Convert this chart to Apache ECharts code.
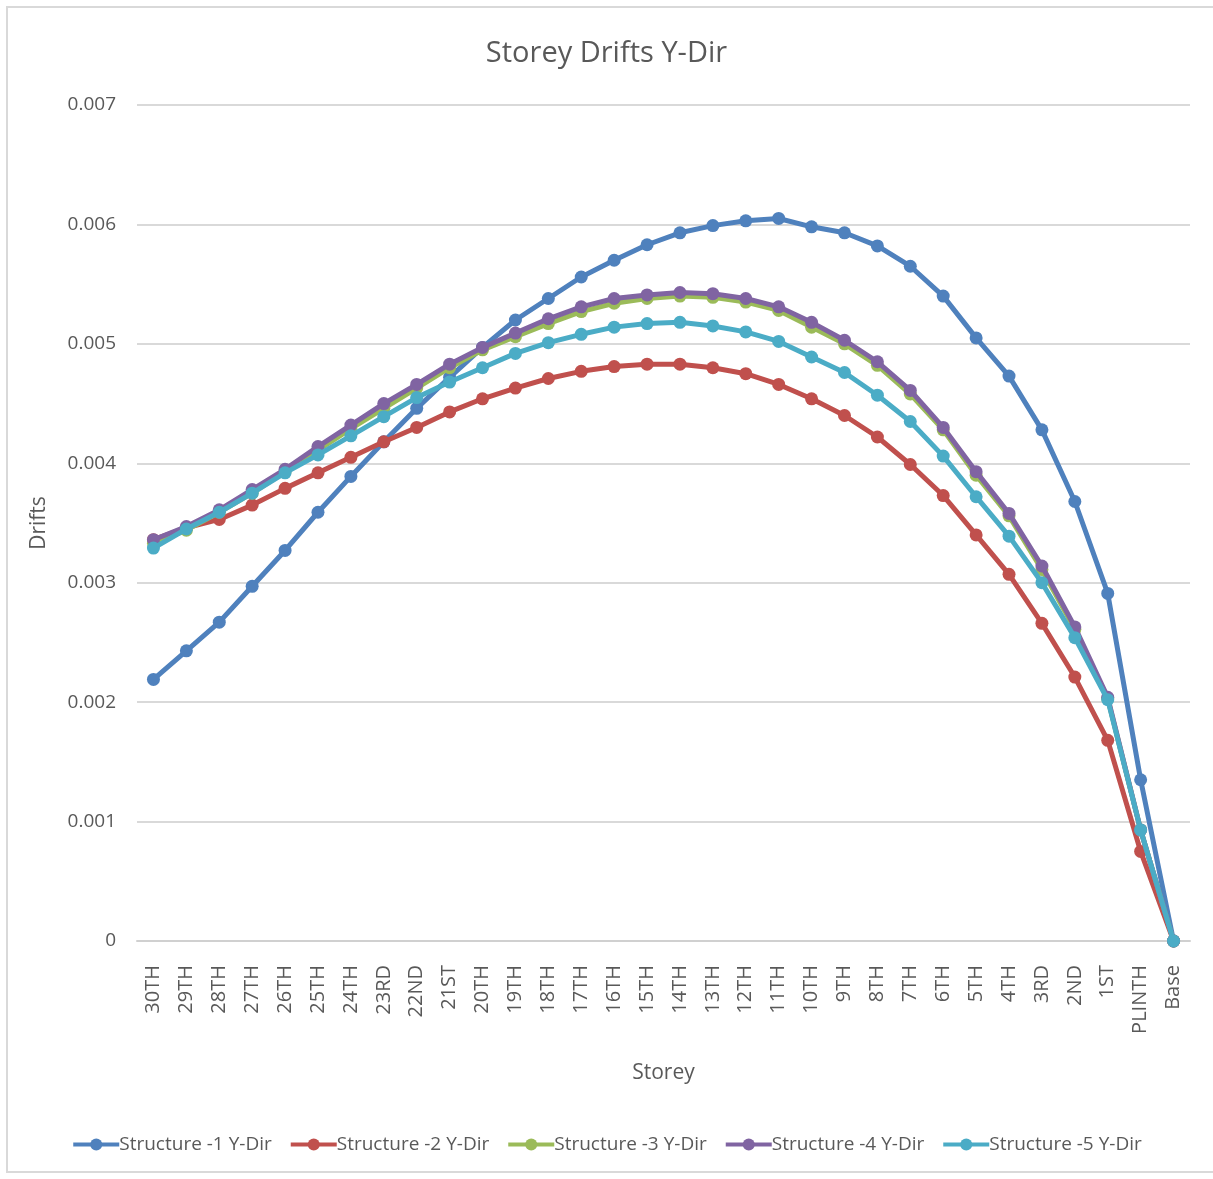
<!DOCTYPE html>
<html>
<head>
<meta charset="utf-8">
<title>Storey Drifts Y-Dir</title>
<script src="https://cdn.jsdelivr.net/npm/echarts@6/dist/echarts.min.js"></script>
<style>
  html, body { margin: 0; padding: 0; background: #ffffff; }
  #chart { width: 1213px; height: 1179px; }
</style>
</head>
<body>
<div id="chart"></div>
<script>
// Storey labels, top floor first
const storeys = ['30TH','29TH','28TH','27TH','26TH','25TH','24TH','23RD','22ND','21ST','20TH','19TH','18TH','17TH','16TH','15TH','14TH','13TH','12TH','11TH','10TH','9TH','8TH','7TH','6TH','5TH','4TH','3RD','2ND','1ST','PLINTH','Base'];

// Storey drift values in the Y direction for each structure
const structure1 = [0.00219,0.00243,0.00267,0.00297,0.00327,0.00359,0.00389,0.00418,0.00446,0.00472,0.00497,0.00520,0.00538,0.00556,0.00570,0.00583,0.00593,0.00599,0.00603,0.00605,0.00598,0.00593,0.00582,0.00565,0.00540,0.00505,0.00473,0.00428,0.00368,0.00291,0.00135,0];
const structure2 = [0.00336,0.00346,0.00353,0.00365,0.00379,0.00392,0.00405,0.00418,0.00430,0.00443,0.00454,0.00463,0.00471,0.00477,0.00481,0.00483,0.00483,0.00480,0.00475,0.00466,0.00454,0.00440,0.00422,0.00399,0.00373,0.00340,0.00307,0.00266,0.00221,0.00168,0.00075,0];
const structure3 = [0.00333,0.00344,0.00359,0.00375,0.00393,0.00411,0.00429,0.00446,0.00463,0.00480,0.00495,0.00506,0.00517,0.00527,0.00534,0.00538,0.00540,0.00539,0.00535,0.00528,0.00514,0.00500,0.00482,0.00458,0.00428,0.00390,0.00356,0.00311,0.00261,0.00203,0.00093,0];
const structure4 = [0.00336,0.00347,0.00361,0.00378,0.00395,0.00414,0.00432,0.00450,0.00466,0.00483,0.00497,0.00509,0.00521,0.00531,0.00538,0.00541,0.00543,0.00542,0.00538,0.00531,0.00518,0.00503,0.00485,0.00461,0.00430,0.00393,0.00358,0.00314,0.00263,0.00204,0.00093,0];
const structure5 = [0.00329,0.00345,0.00359,0.00375,0.00392,0.00407,0.00423,0.00439,0.00455,0.00468,0.00480,0.00492,0.00501,0.00508,0.00514,0.00517,0.00518,0.00515,0.00510,0.00502,0.00489,0.00476,0.00457,0.00435,0.00406,0.00372,0.00339,0.00300,0.00254,0.00202,0.00093,0];

const seriesNames = ['Structure -1 Y-Dir','Structure -2 Y-Dir','Structure -3 Y-Dir','Structure -4 Y-Dir','Structure -5 Y-Dir'];
const seriesData = [structure1, structure2, structure3, structure4, structure5];
const seriesColors = ['#4F81BD','#C0504D','#9BBB59','#8064A2','#4BACC6'];

const FONT = '"Open Sans", "Noto Sans", sans-serif';
const TEXT = '#595959';

const chart = echarts.init(document.getElementById('chart'), null, { renderer: 'canvas' });

chart.setOption({
  animation: false,
  backgroundColor: '#ffffff',
  textStyle: { fontFamily: FONT, color: TEXT },
  title: {
    text: 'Storey Drifts Y-Dir',
    left: 'center',
    top: 34,
    textStyle: { fontFamily: FONT, fontSize: 29, fontWeight: 'normal', color: TEXT }
  },
  graphic: [{
    type: 'rect',
    silent: true,
    shape: { x: 7, y: 7, width: 1220, height: 1165 },
    style: { fill: 'none', stroke: '#d9d9d9', lineWidth: 2 }
  }],
  legend: {
    bottom: 20,
    left: 'center',
    itemWidth: 46,
    itemHeight: 15,
    itemGap: 17,
    lineStyle: { width: 4 },
    textStyle: { fontFamily: FONT, fontSize: 19, color: TEXT, padding: [0, 0, 0, -5] },
    data: seriesNames
  },
  grid: { left: 137, right: 23, top: 105, bottom: 238 },
  xAxis: {
    type: 'category',
    data: storeys,
    boundaryGap: true,
    name: 'Storey',
    nameLocation: 'middle',
    nameGap: 122,
    nameTextStyle: { fontFamily: FONT, fontSize: 21, color: TEXT },
    axisLine: { lineStyle: { color: '#d0d0d0', width: 2 } },
    axisTick: { show: false },
    axisLabel: { rotate: 90, margin: 24, fontFamily: FONT, fontSize: 20, color: TEXT, interval: 0 }
  },
  yAxis: {
    type: 'value',
    min: 0,
    max: 0.007,
    interval: 0.001,
    name: 'Drifts',
    nameLocation: 'middle',
    nameRotate: 90,
    nameGap: 87,
    nameTextStyle: { fontFamily: FONT, fontSize: 21, color: TEXT },
    axisLine: { show: false },
    axisTick: { show: false },
    splitLine: { lineStyle: { color: '#d9d9d9', width: 2 } },
    axisLabel: {
      margin: 21,
      fontFamily: FONT,
      fontSize: 19,
      color: TEXT,
      formatter: v => (v === 0 ? '0' : v.toFixed(3))
    }
  },
  series: seriesNames.map((name, i) => ({
    name: name,
    type: 'line',
    data: seriesData[i],
    color: seriesColors[i],
    symbol: 'circle',
    symbolSize: 13,
    lineStyle: { width: 5, color: seriesColors[i] },
    itemStyle: { color: seriesColors[i] },
    z: 2 + i
  }))
});
</script>
</body>
</html>
